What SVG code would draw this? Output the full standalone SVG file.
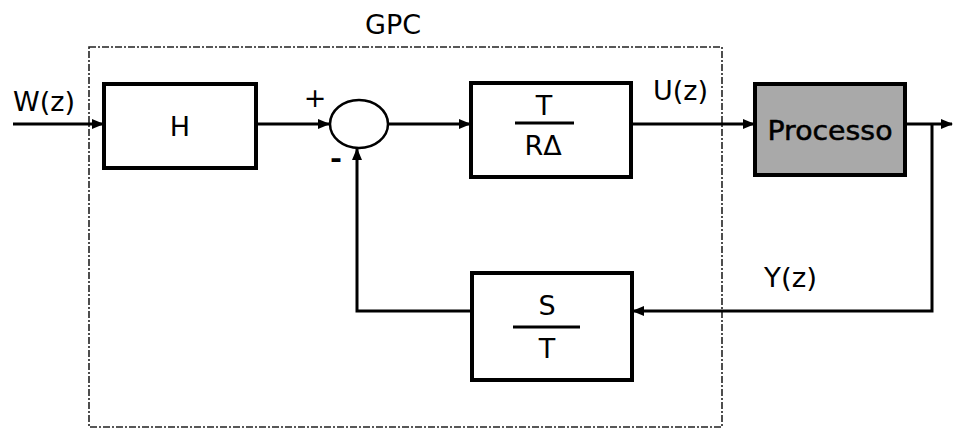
<svg xmlns="http://www.w3.org/2000/svg" width="953" height="430" viewBox="0 0 953 430">
<style>
.box{fill:#fff;stroke:#000;stroke-width:4}
.ln{fill:none;stroke:#000;stroke-width:3}
.t{font-family:"DejaVu Sans","Liberation Sans",sans-serif;fill:#000;font-size:27px}
.c{text-anchor:middle}
</style>
<defs>
<marker id="ar" markerWidth="12" markerHeight="10" refX="11" refY="5" orient="auto" markerUnits="userSpaceOnUse">
<path d="M0,0 L12,5 L0,10 Z" fill="#000"/>
</marker>
</defs>
<rect x="0" y="0" width="953" height="430" fill="#fff"/>
<g id="gpc">
<rect x="89" y="47" width="633" height="380" fill="none" stroke="#222" stroke-width="1.6" stroke-dasharray="7 2 2 2"/>
<text class="t c" x="393" y="34">GPC</text>
</g>
<g id="connectors">
<path class="ln" d="M13,124 H103" marker-end="url(#ar)"/>
<path class="ln" d="M256,124 H329" marker-end="url(#ar)"/>
<path class="ln" d="M388,124 H470" marker-end="url(#ar)"/>
<path class="ln" d="M631,124 H754" marker-end="url(#ar)"/>
<path class="ln" d="M905,124 H952" marker-end="url(#ar)"/>
<path class="ln" d="M932,124 V311 H633" marker-end="url(#ar)"/>
<path class="ln" d="M472,311 H357 V149" marker-end="url(#ar)"/>
</g>
<g id="labels">
<text class="t" x="13" y="111" textLength="62" lengthAdjust="spacingAndGlyphs">W(z)</text>
<text class="t" x="653" y="100" textLength="55" lengthAdjust="spacingAndGlyphs">U(z)</text>
<text class="t" x="764" y="287" textLength="53" lengthAdjust="spacingAndGlyphs">Y(z)</text>
<text class="t c" x="315" y="107" font-size="24">+</text>
<text class="t c" x="336" y="168" font-weight="bold" textLength="12" lengthAdjust="spacingAndGlyphs">-</text>
</g>
<g id="H">
<rect class="box" x="104" y="84" width="152" height="84"/>
<text class="t c" x="180" y="136">H</text>
</g>
<g id="sum">
<ellipse cx="359" cy="124" rx="29" ry="24" fill="#fff" stroke="#000" stroke-width="2.5"/>
</g>
<g id="TR">
<rect class="box" x="471" y="83" width="160" height="94"/>
<line x1="515" y1="123" x2="574" y2="123" stroke="#000" stroke-width="3"/>
<text class="t c" x="544" y="115" font-size="24">T</text>
<text class="t c" x="543" y="155" font-size="26">RΔ</text>
</g>
<g id="processo">
<rect x="755" y="84" width="150" height="91" fill="#a9a9a9" stroke="#000" stroke-width="4"/>
<text class="t c" x="830" y="140" font-size="29" stroke="#000" stroke-width="0.5" textLength="125" lengthAdjust="spacingAndGlyphs">Processo</text>
</g>
<g id="ST">
<rect class="box" x="472" y="273" width="160" height="107"/>
<line x1="513" y1="327" x2="580" y2="327" stroke="#000" stroke-width="3"/>
<text class="t c" x="547" y="315" font-size="28">S</text>
<text class="t c" x="547" y="358" font-size="28">T</text>
</g>
</svg>
